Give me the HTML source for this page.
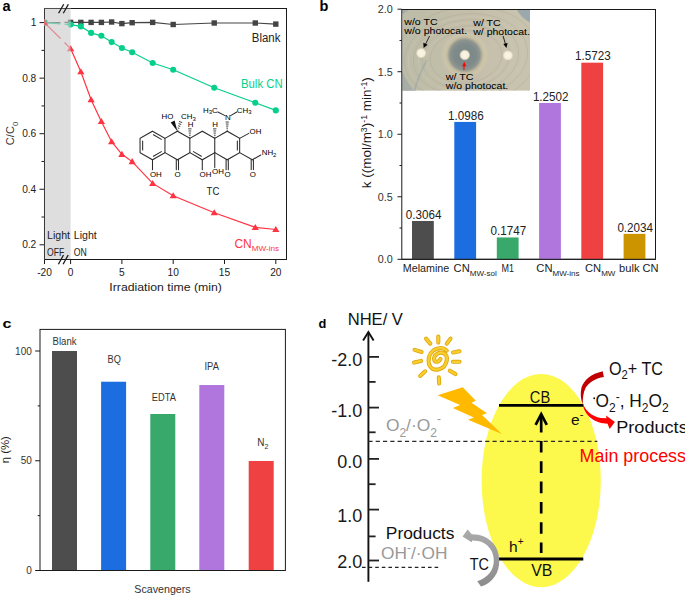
<!DOCTYPE html>
<html><head><meta charset="utf-8"><style>
html,body{margin:0;padding:0;background:#fff;width:685px;height:595px;overflow:hidden}
svg{display:block}
text{font-family:"Liberation Sans", sans-serif}
</style></head><body>
<svg width="685" height="595" viewBox="0 0 685 595" font-family='"Liberation Sans", sans-serif'>
<rect width="685" height="595" fill="#fff"/>
<text x="2.5" y="10.8" font-size="14.5" fill="#000" text-anchor="start" font-weight="bold" >a</text>
<rect x="44.5" y="8.5" width="242.0" height="251.0" fill="none" stroke="#1a1a1a" stroke-width="1"/>
<line x1="39.5" y1="22.6" x2="44.5" y2="22.6" stroke="#1a1a1a" stroke-width="1" />
<text x="36.3" y="26.1" font-size="10.2" fill="#222" text-anchor="end" font-weight="normal" >1</text>
<line x1="39.5" y1="78.14999999999999" x2="44.5" y2="78.14999999999999" stroke="#1a1a1a" stroke-width="1" />
<text x="36.3" y="81.65" font-size="10.2" fill="#222" text-anchor="end" font-weight="normal" >0.8</text>
<line x1="39.5" y1="133.70000000000002" x2="44.5" y2="133.70000000000002" stroke="#1a1a1a" stroke-width="1" />
<text x="36.3" y="137.2" font-size="10.2" fill="#222" text-anchor="end" font-weight="normal" >0.6</text>
<line x1="39.5" y1="189.25" x2="44.5" y2="189.25" stroke="#1a1a1a" stroke-width="1" />
<text x="36.3" y="192.75" font-size="10.2" fill="#222" text-anchor="end" font-weight="normal" >0.4</text>
<line x1="39.5" y1="244.8" x2="44.5" y2="244.8" stroke="#1a1a1a" stroke-width="1" />
<text x="36.3" y="248.3" font-size="10.2" fill="#222" text-anchor="end" font-weight="normal" >0.2</text>
<line x1="41.5" y1="50.375" x2="44.5" y2="50.375" stroke="#1a1a1a" stroke-width="1" />
<line x1="41.5" y1="105.92500000000001" x2="44.5" y2="105.92500000000001" stroke="#1a1a1a" stroke-width="1" />
<line x1="41.5" y1="161.475" x2="44.5" y2="161.475" stroke="#1a1a1a" stroke-width="1" />
<line x1="41.5" y1="217.02499999999998" x2="44.5" y2="217.02499999999998" stroke="#1a1a1a" stroke-width="1" />
<line x1="44.5" y1="259.5" x2="44.5" y2="264.0" stroke="#1a1a1a" stroke-width="1" />
<text x="44.5" y="275.8" font-size="10.2" fill="#222" text-anchor="middle" font-weight="normal" >-20</text>
<line x1="70.6" y1="259.5" x2="70.6" y2="264.0" stroke="#1a1a1a" stroke-width="1" />
<text x="70.6" y="275.8" font-size="10.2" fill="#222" text-anchor="middle" font-weight="normal" >0</text>
<line x1="121.89999999999999" y1="259.5" x2="121.89999999999999" y2="264.0" stroke="#1a1a1a" stroke-width="1" />
<text x="121.9" y="275.8" font-size="10.2" fill="#222" text-anchor="middle" font-weight="normal" >5</text>
<line x1="173.2" y1="259.5" x2="173.2" y2="264.0" stroke="#1a1a1a" stroke-width="1" />
<text x="173.2" y="275.8" font-size="10.2" fill="#222" text-anchor="middle" font-weight="normal" >10</text>
<line x1="224.5" y1="259.5" x2="224.5" y2="264.0" stroke="#1a1a1a" stroke-width="1" />
<text x="224.5" y="275.8" font-size="10.2" fill="#222" text-anchor="middle" font-weight="normal" >15</text>
<line x1="275.79999999999995" y1="259.5" x2="275.79999999999995" y2="264.0" stroke="#1a1a1a" stroke-width="1" />
<text x="275.8" y="275.8" font-size="10.2" fill="#222" text-anchor="middle" font-weight="normal" >20</text>
<text x="109.3" y="290.7" font-size="11.7" fill="#222" text-anchor="start" font-weight="normal" textLength="112.6" lengthAdjust="spacingAndGlyphs" >Irradiation time (min)</text>
<text transform="translate(14.1,145.2) rotate(-90) scale(0.96,1)" font-size="11.6" fill="#333">C/C<tspan font-size="8" dy="3.6">0</tspan></text>
<line x1="44.5" y1="22.6" x2="60.5" y2="22.48" stroke="#444444" stroke-width="1.2" />
<line x1="64.5" y1="22.45" x2="70.6" y2="22.4" stroke="#444444" stroke-width="1.2" />
<line x1="44.5" y1="22.6" x2="60.5" y2="23.83" stroke="#05cf8a" stroke-width="1.2" />
<line x1="64.5" y1="24.13" x2="70.6" y2="24.6" stroke="#05cf8a" stroke-width="1.2" />
<line x1="44.5" y1="22.6" x2="60.5" y2="38.54" stroke="#ff3341" stroke-width="1.2" />
<line x1="64.5" y1="42.52" x2="70.6" y2="48.6" stroke="#ff3341" stroke-width="1.2" />
<polyline points="70.60,22.40 80.86,22.40 91.12,22.40 101.38,22.40 111.64,22.00 121.90,23.60 132.16,22.70 152.68,22.40 173.20,24.50 214.24,23.00 255.28,23.00 275.80,24.10" fill="none" stroke="#444444" stroke-width="1.2"/>
<polyline points="70.60,24.60 80.86,26.40 91.12,32.90 101.38,35.80 111.64,42.10 121.90,48.00 132.16,52.30 152.68,63.00 173.20,69.80 214.24,87.70 255.28,102.80 275.80,110.40" fill="none" stroke="#05cf8a" stroke-width="1.2"/>
<polyline points="70.60,48.60 80.86,71.70 91.12,99.70 101.38,121.50 111.64,141.70 121.90,154.30 132.16,161.60 152.68,183.40 173.20,195.70 214.24,212.70 255.28,227.40 275.80,229.50" fill="none" stroke="#ff3341" stroke-width="1.2"/>
<rect x="67.90" y="19.70" width="5.4" height="5.4" fill="#444444"/>
<rect x="78.16" y="19.70" width="5.4" height="5.4" fill="#444444"/>
<rect x="88.42" y="19.70" width="5.4" height="5.4" fill="#444444"/>
<rect x="98.68" y="19.70" width="5.4" height="5.4" fill="#444444"/>
<rect x="108.94" y="19.30" width="5.4" height="5.4" fill="#444444"/>
<rect x="119.20" y="20.90" width="5.4" height="5.4" fill="#444444"/>
<rect x="129.46" y="20.00" width="5.4" height="5.4" fill="#444444"/>
<rect x="149.98" y="19.70" width="5.4" height="5.4" fill="#444444"/>
<rect x="170.50" y="21.80" width="5.4" height="5.4" fill="#444444"/>
<rect x="211.54" y="20.30" width="5.4" height="5.4" fill="#444444"/>
<rect x="252.58" y="20.30" width="5.4" height="5.4" fill="#444444"/>
<rect x="273.10" y="21.40" width="5.4" height="5.4" fill="#444444"/>
<circle cx="70.60" cy="24.60" r="3.05" fill="#05cf8a"/>
<circle cx="80.86" cy="26.40" r="3.05" fill="#05cf8a"/>
<circle cx="91.12" cy="32.90" r="3.05" fill="#05cf8a"/>
<circle cx="101.38" cy="35.80" r="3.05" fill="#05cf8a"/>
<circle cx="111.64" cy="42.10" r="3.05" fill="#05cf8a"/>
<circle cx="121.90" cy="48.00" r="3.05" fill="#05cf8a"/>
<circle cx="132.16" cy="52.30" r="3.05" fill="#05cf8a"/>
<circle cx="152.68" cy="63.00" r="3.05" fill="#05cf8a"/>
<circle cx="173.20" cy="69.80" r="3.05" fill="#05cf8a"/>
<circle cx="214.24" cy="87.70" r="3.05" fill="#05cf8a"/>
<circle cx="255.28" cy="102.80" r="3.05" fill="#05cf8a"/>
<circle cx="275.80" cy="110.40" r="3.05" fill="#05cf8a"/>
<polygon points="70.60,45.10 74.20,51.20 67.00,51.20" fill="#ff3341"/>
<polygon points="80.86,68.20 84.46,74.30 77.26,74.30" fill="#ff3341"/>
<polygon points="91.12,96.20 94.72,102.30 87.52,102.30" fill="#ff3341"/>
<polygon points="101.38,118.00 104.98,124.10 97.78,124.10" fill="#ff3341"/>
<polygon points="111.64,138.20 115.24,144.30 108.04,144.30" fill="#ff3341"/>
<polygon points="121.90,150.80 125.50,156.90 118.30,156.90" fill="#ff3341"/>
<polygon points="132.16,158.10 135.76,164.20 128.56,164.20" fill="#ff3341"/>
<polygon points="152.68,179.90 156.28,186.00 149.08,186.00" fill="#ff3341"/>
<polygon points="173.20,192.20 176.80,198.30 169.60,198.30" fill="#ff3341"/>
<polygon points="214.24,209.20 217.84,215.30 210.64,215.30" fill="#ff3341"/>
<polygon points="255.28,223.90 258.88,230.00 251.68,230.00" fill="#ff3341"/>
<polygon points="275.80,226.00 279.40,232.10 272.20,232.10" fill="#ff3341"/>
<rect x="43.9" y="7.9" width="26.699999999999996" height="251.1" fill="#c8c8c8" fill-opacity="0.6"/>
<line x1="44.5" y1="8.0" x2="44.5" y2="260.0" stroke="#3a3a3a" stroke-width="1" />
<line x1="44.5" y1="8.5" x2="70.6" y2="8.5" stroke="#505050" stroke-width="1" />
<clipPath id="pa"><rect x="43.9" y="0" width="30" height="60"/></clipPath>
<g clip-path="url(#pa)">
<rect x="41.80" y="19.90" width="5.4" height="5.4" fill="#8a8a8a"/>
<circle cx="44.5" cy="22.6" r="3.05" fill="#5cc99d"/>
<polygon points="44.50,19.10 48.10,25.20 40.90,25.20" fill="#e06a74"/>
</g>
<line x1="58.6" y1="13.2" x2="63.7" y2="4.2" stroke="#1a1a1a" stroke-width="1.3" />
<line x1="58.4" y1="264.2" x2="63.5" y2="255.0" stroke="#1a1a1a" stroke-width="1.3" />
<line x1="63.300000000000004" y1="13.2" x2="68.4" y2="4.2" stroke="#1a1a1a" stroke-width="1.3" />
<line x1="63.1" y1="264.2" x2="68.2" y2="255.0" stroke="#1a1a1a" stroke-width="1.3" />
<text x="47" y="239.1" font-size="10.5" fill="#222" text-anchor="start" font-weight="normal" textLength="23" lengthAdjust="spacingAndGlyphs" >Light</text>
<text x="47" y="256.3" font-size="10.5" fill="#222" text-anchor="start" font-weight="normal" textLength="17.2" lengthAdjust="spacingAndGlyphs" >OFF</text>
<text x="73.8" y="239.1" font-size="10.5" fill="#222" text-anchor="start" font-weight="normal" textLength="23" lengthAdjust="spacingAndGlyphs" >Light</text>
<text x="73.8" y="256.3" font-size="10.5" fill="#222" text-anchor="start" font-weight="normal" textLength="13" lengthAdjust="spacingAndGlyphs" >ON</text>
<text x="251.8" y="41.7" font-size="12" fill="#222" text-anchor="start" font-weight="normal" textLength="28.6" lengthAdjust="spacingAndGlyphs" >Blank</text>
<text x="241.0" y="87.8" font-size="12" fill="#05cf8a" text-anchor="start" font-weight="normal" textLength="41.6" lengthAdjust="spacingAndGlyphs" >Bulk CN</text>
<text x="234.4" y="248" font-size="12" fill="#ff3341">CN<tspan font-size="8.1" dy="3.2">MW-ins</tspan></text>
<text x="206.6" y="195.3" font-size="11.5" fill="#222" text-anchor="start" font-weight="normal" textLength="12.8" lengthAdjust="spacingAndGlyphs" >TC</text>
<g stroke="#2b2b2b" stroke-width="1.05" fill="none" stroke-linecap="round">
<path d="M152.50,131.20 L164.95,138.40 L164.95,152.60 L152.50,159.80 L140.05,152.60 L140.05,138.40 Z"/>
<path d="M164.95,138.4 L177.40,131.2 L189.85,138.4 L189.85,152.6 L177.40,159.8 L164.95,152.6"/>
<path d="M189.85,138.4 L202.30,131.2 L214.75,138.4 L214.75,152.6 L202.30,159.8 L189.85,152.6"/>
<path d="M214.75,138.4 L227.20,131.2 L239.65,138.4 L239.65,152.6 L227.20,159.8 L214.75,152.6"/>
<line x1="153.43" y1="134.74" x2="161.40" y2="139.35"/>
<line x1="142.65" y1="140.96" x2="142.65" y2="150.04"/>
<line x1="153.43" y1="156.26" x2="161.40" y2="151.65"/>
<line x1="193.40" y1="151.65" x2="201.37" y2="156.26"/>
<line x1="237.35" y1="140.96" x2="237.35" y2="150.04"/>
<line x1="152.5" y1="159.8" x2="152.5" y2="169.8"/>
<line x1="176.3" y1="159.8" x2="176.3" y2="169.8"/><line x1="178.5" y1="159.8" x2="178.5" y2="169.8"/>
<line x1="202.3" y1="159.8" x2="202.3" y2="169.8"/>
<line x1="214.75" y1="152.6" x2="214.75" y2="167.6"/>
<line x1="226.1" y1="159.8" x2="226.1" y2="169.8"/><line x1="228.29999999999998" y1="159.8" x2="228.29999999999998" y2="169.8"/>
<line x1="239.64999999999998" y1="138.4" x2="248.8" y2="133.4"/>
<line x1="239.64999999999998" y1="152.6" x2="252.3" y2="159.8"/>
<line x1="251.2" y1="159.8" x2="251.2" y2="169.6"/><line x1="253.4" y1="159.8" x2="253.4" y2="169.6"/>
<line x1="252.3" y1="159.8" x2="260.8" y2="155.0"/>
<line x1="217.9" y1="112.0" x2="225.0" y2="115.6"/><line x1="230.6" y1="115.6" x2="236.8" y2="112.0"/>
</g>
<polygon points="177.40,131.2 170.70,122.40 174.60,120.40" fill="#111"/>
<line x1="177.25" y1="130.00" x2="178.27" y2="130.36" stroke="#2b2b2b" stroke-width="0.9"/>
<line x1="177.71" y1="127.87" x2="179.25" y2="128.41" stroke="#2b2b2b" stroke-width="0.9"/>
<line x1="178.16" y1="125.73" x2="180.24" y2="126.47" stroke="#2b2b2b" stroke-width="0.9"/>
<line x1="178.62" y1="123.60" x2="181.22" y2="124.52" stroke="#2b2b2b" stroke-width="0.9"/>
<line x1="179.07" y1="121.47" x2="182.21" y2="122.57" stroke="#2b2b2b" stroke-width="0.9"/>
<line x1="189.31" y1="137.34" x2="190.39" y2="137.34" stroke="#2b2b2b" stroke-width="0.9"/>
<line x1="189.03" y1="135.22" x2="190.67" y2="135.22" stroke="#2b2b2b" stroke-width="0.9"/>
<line x1="188.75" y1="133.10" x2="190.95" y2="133.10" stroke="#2b2b2b" stroke-width="0.9"/>
<line x1="188.47" y1="130.98" x2="191.23" y2="130.98" stroke="#2b2b2b" stroke-width="0.9"/>
<line x1="188.19" y1="128.86" x2="191.51" y2="128.86" stroke="#2b2b2b" stroke-width="0.9"/>
<line x1="214.21" y1="137.34" x2="215.29" y2="137.34" stroke="#2b2b2b" stroke-width="0.9"/>
<line x1="213.93" y1="135.22" x2="215.57" y2="135.22" stroke="#2b2b2b" stroke-width="0.9"/>
<line x1="213.65" y1="133.10" x2="215.85" y2="133.10" stroke="#2b2b2b" stroke-width="0.9"/>
<line x1="213.37" y1="130.98" x2="216.13" y2="130.98" stroke="#2b2b2b" stroke-width="0.9"/>
<line x1="213.09" y1="128.86" x2="216.41" y2="128.86" stroke="#2b2b2b" stroke-width="0.9"/>
<line x1="226.66" y1="130.18" x2="227.74" y2="130.18" stroke="#2b2b2b" stroke-width="0.9"/>
<line x1="226.38" y1="128.14" x2="228.02" y2="128.14" stroke="#2b2b2b" stroke-width="0.9"/>
<line x1="226.10" y1="126.10" x2="228.30" y2="126.10" stroke="#2b2b2b" stroke-width="0.9"/>
<line x1="225.82" y1="124.06" x2="228.58" y2="124.06" stroke="#2b2b2b" stroke-width="0.9"/>
<line x1="225.54" y1="122.02" x2="228.86" y2="122.02" stroke="#2b2b2b" stroke-width="0.9"/>
<text x="149.9" y="176.8" font-size="7.9" fill="#000" text-anchor="start">OH</text>
<text x="174.6" y="176.8" font-size="7.9" fill="#000" text-anchor="start">O</text>
<text x="199.5" y="176.8" font-size="7.9" fill="#000" text-anchor="start">OH</text>
<text x="212.0" y="173.6" font-size="7.9" fill="#000" text-anchor="start">OH</text>
<text x="224.5" y="176.8" font-size="7.9" fill="#000" text-anchor="start">O</text>
<text x="249.7" y="176.6" font-size="7.9" fill="#000" text-anchor="start">O</text>
<text x="249.6" y="134.1" font-size="7.9" fill="#000" text-anchor="start">OH</text>
<text x="261.7" y="155.4" font-size="7.9" fill="#000" text-anchor="start">NH<tspan font-size="6" dy="1.6">2</tspan></text>
<text x="161.6" y="119.0" font-size="7.9" fill="#000" text-anchor="start">HO</text>
<text x="181.0" y="119.0" font-size="7.9" fill="#000" text-anchor="start">CH<tspan font-size="6" dy="1.6">3</tspan></text>
<text x="187.8" y="126.7" font-size="7.9" fill="#000" text-anchor="start">H</text>
<text x="212.3" y="126.7" font-size="7.9" fill="#000" text-anchor="start">H</text>
<text x="225.0" y="119.9" font-size="7.9" fill="#000" text-anchor="start">N</text>
<text x="203.0" y="112.6" font-size="7.9" fill="#000">H<tspan font-size="6" dy="1.6">3</tspan><tspan dy="-1.6">C</tspan></text>
<text x="236.8" y="112.6" font-size="7.9" fill="#000" text-anchor="start">CH<tspan font-size="6" dy="1.6">3</tspan></text>
<text x="319.4" y="10.8" font-size="14.5" fill="#000" text-anchor="start" font-weight="bold" >b</text>
<defs>
<radialGradient id="ring" cx="464.8" cy="55.0" r="25" gradientUnits="userSpaceOnUse">
 <stop offset="0" stop-color="#7b8686"/><stop offset="0.45" stop-color="#7f8a8a"/><stop offset="0.6" stop-color="#8e9590"/><stop offset="0.72" stop-color="#c4bc9f"/><stop offset="0.84" stop-color="#d4cbaf" stop-opacity="0.5"/><stop offset="1" stop-color="#c8c2ab" stop-opacity="0"/>
</radialGradient>
<linearGradient id="bg" x1="0" y1="0" x2="1" y2="0">
 <stop offset="0" stop-color="#bdbca9"/><stop offset="0.5" stop-color="#c4beaa"/><stop offset="1" stop-color="#c9c4b0"/>
</linearGradient>
<radialGradient id="spot" cx="0.5" cy="0.5" r="0.5">
 <stop offset="0" stop-color="#fbf6e6"/><stop offset="0.7" stop-color="#f6efda"/><stop offset="1" stop-color="#e9e0c8" stop-opacity="0.3"/>
</radialGradient>
<linearGradient id="tr" x1="0" y1="0" x2="1" y2="1">
 <stop offset="0" stop-color="#8e9ea6" stop-opacity="0.95"/><stop offset="1" stop-color="#8e9ea6" stop-opacity="0"/>
</linearGradient>
<clipPath id="inclip"><rect x="402.3" y="9.5" width="127.7" height="81.3"/></clipPath>
</defs>
<g clip-path="url(#inclip)">
<rect x="402.3" y="9.5" width="127.69999999999999" height="81.3" fill="url(#bg)"/>
<path d="M516.5,9 L531,9 L531,23 Q521,18 516.5,9 Z" fill="#93a4ac" opacity="0.85"/>
<path d="M402,9 L410,9 Q406,12 402,14.5 Z" fill="#9eaaae" opacity="0.8"/>
<path d="M402,71 Q407,82 414,91 L402,91 Z" fill="#a0a9a8" opacity="0.75"/>
<path d="M414.5,91 Q418,76 427,60" stroke="#a2aaa8" stroke-width="2" fill="none" opacity="0.7"/>
<g fill="none" stroke="#a9a690" stroke-width="0.6" opacity="0.6">
<ellipse cx="466" cy="57" rx="36" ry="26" transform="rotate(-8 466 57)"/>
<ellipse cx="466" cy="57" rx="44" ry="31" transform="rotate(-8 466 57)"/>
<ellipse cx="466" cy="57" rx="53" ry="37" transform="rotate(-8 466 57)"/>
<ellipse cx="466" cy="57" rx="62" ry="43" transform="rotate(-8 466 57)"/>
<ellipse cx="466" cy="57" rx="72" ry="50" transform="rotate(-8 466 57)"/>
</g>
<g fill="none" stroke="#d6cfb8" stroke-width="0.8" opacity="0.35">
<ellipse cx="466" cy="57" rx="40" ry="28" transform="rotate(-8 466 57)"/>
<ellipse cx="466" cy="57" rx="48" ry="34" transform="rotate(-8 466 57)"/>
<ellipse cx="466" cy="57" rx="58" ry="40" transform="rotate(-8 466 57)"/>
</g>
<circle cx="464.8" cy="55.0" r="25" fill="url(#ring)"/>
<circle cx="421.2" cy="53.1" r="5.2" fill="url(#spot)"/>
<circle cx="464.8" cy="55.0" r="5.4" fill="url(#spot)"/>
<circle cx="507.9" cy="55.4" r="5.2" fill="url(#spot)"/>
</g>
<g font-size="8.9" fill="#000" stroke="#000" stroke-width="0.05">
<text x="404.3" y="24.6" textLength="33.2" lengthAdjust="spacingAndGlyphs">w/o TC</text>
<text x="404.3" y="33.5" textLength="62.8" lengthAdjust="spacingAndGlyphs">w/o photocat.</text>
<text x="473.3" y="26.3" textLength="27.4" lengthAdjust="spacingAndGlyphs">w/ TC</text>
<text x="473.3" y="35.2" textLength="56.5" lengthAdjust="spacingAndGlyphs">w/ photocat.</text>
<text x="445.8" y="80.3" textLength="27.8" lengthAdjust="spacingAndGlyphs">w/ TC</text>
<text x="445.8" y="88.5" textLength="62.5" lengthAdjust="spacingAndGlyphs">w/o photocat.</text>
</g>
<line x1="429.6" y1="36" x2="425.6" y2="44" stroke="#000" stroke-width="0.8"/>
<polygon points="423.6,48 423.3,42.8 427.6,44.8" fill="#000"/>
<line x1="503.1" y1="35.9" x2="505.4" y2="44" stroke="#000" stroke-width="0.8"/>
<polygon points="506.4,47.9 503.3,43.9 507.6,42.9" fill="#000"/>
<line x1="463.9" y1="70" x2="464.1" y2="65" stroke="#f00" stroke-width="1"/>
<polygon points="464.3,61.8 462.2,66.2 466.2,66.2" fill="#f00"/>
<rect x="401.8" y="9.5" width="253.7" height="249.8" fill="none" stroke="#1a1a1a" stroke-width="1"/>
<line x1="397.5" y1="259.3" x2="401.8" y2="259.3" stroke="#1a1a1a" stroke-width="1" />
<text x="392.8" y="263.3" font-size="11.2" fill="#333" text-anchor="end" font-weight="normal" textLength="15" lengthAdjust="spacingAndGlyphs" >0.0</text>
<line x1="397.5" y1="196.775" x2="401.8" y2="196.775" stroke="#1a1a1a" stroke-width="1" />
<text x="392.8" y="200.78" font-size="11.2" fill="#333" text-anchor="end" font-weight="normal" textLength="15" lengthAdjust="spacingAndGlyphs" >0.5</text>
<line x1="397.5" y1="134.25" x2="401.8" y2="134.25" stroke="#1a1a1a" stroke-width="1" />
<text x="392.8" y="138.25" font-size="11.2" fill="#333" text-anchor="end" font-weight="normal" textLength="15" lengthAdjust="spacingAndGlyphs" >1.0</text>
<line x1="397.5" y1="71.72500000000002" x2="401.8" y2="71.72500000000002" stroke="#1a1a1a" stroke-width="1" />
<text x="392.8" y="75.73" font-size="11.2" fill="#333" text-anchor="end" font-weight="normal" textLength="15" lengthAdjust="spacingAndGlyphs" >1.5</text>
<line x1="397.5" y1="9.200000000000017" x2="401.8" y2="9.200000000000017" stroke="#1a1a1a" stroke-width="1" />
<text x="392.8" y="13.2" font-size="11.2" fill="#333" text-anchor="end" font-weight="normal" textLength="15" lengthAdjust="spacingAndGlyphs" >2.0</text>
<line x1="399.5" y1="228.03750000000002" x2="401.8" y2="228.03750000000002" stroke="#1a1a1a" stroke-width="1" />
<line x1="399.5" y1="165.51250000000002" x2="401.8" y2="165.51250000000002" stroke="#1a1a1a" stroke-width="1" />
<line x1="399.5" y1="102.98750000000001" x2="401.8" y2="102.98750000000001" stroke="#1a1a1a" stroke-width="1" />
<line x1="399.5" y1="40.462500000000006" x2="401.8" y2="40.462500000000006" stroke="#1a1a1a" stroke-width="1" />
<text transform="translate(371.4,188.2) rotate(-90)" font-size="13" fill="#1a1a1a" textLength="111" lengthAdjust="spacingAndGlyphs">k ((mol/m<tspan font-size="8.5" dy="-4.5">3</tspan><tspan dy="4.5">)</tspan><tspan font-size="8.5" dy="-4.5">-1</tspan><tspan dy="4.5"> min</tspan><tspan font-size="8.5" dy="-4.5">-1</tspan><tspan dy="4.5">)</tspan></text>
<rect x="412.0" y="220.98" width="21.8" height="38.32" fill="#4d4d4d"/>
<text x="423.6" y="218.68" font-size="12.2" fill="#222" text-anchor="middle" font-weight="normal" textLength="35.6" lengthAdjust="spacingAndGlyphs" >0.3064</text>
<rect x="454.3" y="121.92" width="21.8" height="137.38" fill="#1b6de0"/>
<text x="465.9" y="119.62" font-size="12.2" fill="#222" text-anchor="middle" font-weight="normal" textLength="35.6" lengthAdjust="spacingAndGlyphs" >1.0986</text>
<rect x="496.8" y="237.45" width="21.8" height="21.85" fill="#38a96a"/>
<text x="508.4" y="235.15" font-size="12.2" fill="#222" text-anchor="middle" font-weight="normal" textLength="35.6" lengthAdjust="spacingAndGlyphs" >0.1747</text>
<rect x="539.1" y="102.96" width="21.8" height="156.34" fill="#b076dd"/>
<text x="550.7" y="100.66" font-size="12.2" fill="#222" text-anchor="middle" font-weight="normal" textLength="35.6" lengthAdjust="spacingAndGlyphs" >1.2502</text>
<rect x="581.3" y="62.68" width="21.8" height="196.62" fill="#ef4141"/>
<text x="592.9" y="60.38" font-size="12.2" fill="#222" text-anchor="middle" font-weight="normal" textLength="35.6" lengthAdjust="spacingAndGlyphs" >1.5723</text>
<rect x="623.6" y="233.86" width="21.8" height="25.44" fill="#cc9500"/>
<text x="635.2" y="231.56" font-size="12.2" fill="#222" text-anchor="middle" font-weight="normal" textLength="35.6" lengthAdjust="spacingAndGlyphs" >0.2034</text>
<line x1="401.8" y1="259.3" x2="655.5" y2="259.3" stroke="#1a1a1a" stroke-width="1" />
<text x="402.8" y="272.2" font-size="11.2" fill="#222" text-anchor="start" font-weight="normal" textLength="46.4" lengthAdjust="spacingAndGlyphs" >Melamine</text>
<text x="453.6" y="272.2" font-size="11.2" fill="#222">CN<tspan font-size="8" dy="3.6">MW-sol</tspan></text>
<text x="501.6" y="272.2" font-size="11.2" fill="#222" text-anchor="start" font-weight="normal" textLength="12.5" lengthAdjust="spacingAndGlyphs" >M1</text>
<text x="536.3" y="272.2" font-size="11.2" fill="#222">CN<tspan font-size="8" dy="3.3">MW-ins</tspan></text>
<text x="585.0" y="272.2" font-size="11.2" fill="#222">CN<tspan font-size="8" dy="3.3">MW</tspan></text>
<text x="619.1" y="272.2" font-size="11.2" fill="#222" text-anchor="start" font-weight="normal" textLength="39.5" lengthAdjust="spacingAndGlyphs" >bulk CN</text>
<text transform="translate(2.4,327.6) scale(1.2,1)" font-size="13.5" font-weight="bold" fill="#000">c</text>
<rect x="52.0" y="351.00" width="25" height="219.50" fill="#4d4d4d"/>
<rect x="101.1" y="381.73" width="25" height="188.77" fill="#1b6de0"/>
<rect x="150.3" y="414.00" width="25" height="156.50" fill="#38a96a"/>
<rect x="199.3" y="385.02" width="25" height="185.48" fill="#b076dd"/>
<rect x="248.7" y="460.97" width="25" height="109.53" fill="#ef4141"/>
<rect x="40.0" y="329.4" width="245.39999999999998" height="241.10000000000002" fill="none" stroke="#1a1a1a" stroke-width="1"/>
<line x1="35.2" y1="570.5" x2="40.0" y2="570.5" stroke="#1a1a1a" stroke-width="1" />
<text x="31.8" y="574.0" font-size="10" fill="#333" text-anchor="end" font-weight="normal" >0</text>
<line x1="35.2" y1="460.75" x2="40.0" y2="460.75" stroke="#1a1a1a" stroke-width="1" />
<text x="31.8" y="464.25" font-size="10" fill="#333" text-anchor="end" font-weight="normal" >50</text>
<line x1="35.2" y1="351.0" x2="40.0" y2="351.0" stroke="#1a1a1a" stroke-width="1" />
<text x="31.8" y="354.5" font-size="10" fill="#333" text-anchor="end" font-weight="normal" >100</text>
<line x1="37.7" y1="515.625" x2="40.0" y2="515.625" stroke="#1a1a1a" stroke-width="1" />
<line x1="37.7" y1="405.875" x2="40.0" y2="405.875" stroke="#1a1a1a" stroke-width="1" />
<text x="52.6" y="345.2" font-size="10" fill="#333" text-anchor="start" font-weight="normal" textLength="23.9" lengthAdjust="spacingAndGlyphs" >Blank</text>
<text x="107.6" y="363.2" font-size="10" fill="#333" text-anchor="start" font-weight="normal" textLength="13.3" lengthAdjust="spacingAndGlyphs" >BQ</text>
<text x="151.8" y="400.8" font-size="10" fill="#333" text-anchor="start" font-weight="normal" textLength="24.1" lengthAdjust="spacingAndGlyphs" >EDTA</text>
<text x="204.5" y="369.7" font-size="10" fill="#333" text-anchor="start" font-weight="normal" textLength="14.4" lengthAdjust="spacingAndGlyphs" >IPA</text>
<text x="257.2" y="446" font-size="10" fill="#333">N<tspan font-size="7" dy="2.5">2</tspan></text>
<text x="134.3" y="592.8" font-size="11.5" fill="#333" text-anchor="start" font-weight="normal" textLength="56.4" lengthAdjust="spacingAndGlyphs" >Scavengers</text>
<text transform="translate(9.4,463.3) rotate(-90)" font-size="11.4" fill="#222" textLength="27.2" lengthAdjust="spacingAndGlyphs">&#951; (%)</text>
<text x="318.6" y="327.8" font-size="12.8" fill="#000" text-anchor="start" font-weight="bold" >d</text>
<text x="347.7" y="324.6" font-size="16" fill="#111" text-anchor="start" font-weight="normal" textLength="55.2" lengthAdjust="spacingAndGlyphs" >NHE/ V</text>
<ellipse cx="541.2" cy="480.6" rx="59.6" ry="106.6" fill="#fdf84c"/>
<line x1="368.4" y1="332.5" x2="368.4" y2="581.8" stroke="#111" stroke-width="1.9" />
<polyline points="363.1,340.6 368.4,332.0 373.6,340.6" fill="none" stroke="#111" stroke-width="1.9"/>
<line x1="368.4" y1="356.9" x2="379.0" y2="356.9" stroke="#222" stroke-width="1.8" />
<line x1="368.4" y1="407.6" x2="379.0" y2="407.6" stroke="#222" stroke-width="1.8" />
<line x1="368.4" y1="458.9" x2="379.0" y2="458.9" stroke="#222" stroke-width="1.8" />
<line x1="368.4" y1="509.6" x2="379.0" y2="509.6" stroke="#222" stroke-width="1.8" />
<line x1="368.4" y1="560.5" x2="379.0" y2="560.5" stroke="#222" stroke-width="1.8" />
<line x1="368.4" y1="381.9" x2="375.6" y2="381.9" stroke="#222" stroke-width="1.8" />
<line x1="368.4" y1="432.3" x2="375.6" y2="432.3" stroke="#222" stroke-width="1.8" />
<line x1="368.4" y1="484.2" x2="375.6" y2="484.2" stroke="#222" stroke-width="1.8" />
<line x1="368.4" y1="536.4" x2="375.6" y2="536.4" stroke="#222" stroke-width="1.8" />
<text x="362.4" y="365.8" font-size="18" fill="#1a1a1a" text-anchor="end" font-weight="normal" >-2.0</text>
<text x="362.4" y="416.9" font-size="18" fill="#1a1a1a" text-anchor="end" font-weight="normal" >-1.0</text>
<text x="362.4" y="468.4" font-size="18" fill="#1a1a1a" text-anchor="end" font-weight="normal" >0.0</text>
<text x="362.4" y="521.9" font-size="18" fill="#1a1a1a" text-anchor="end" font-weight="normal" >1.0</text>
<text x="362.4" y="568.4" font-size="18" fill="#1a1a1a" text-anchor="end" font-weight="normal" >2.0</text>
<line x1="368.4" y1="441.3" x2="597.4" y2="441.3" stroke="#2a2a2a" stroke-width="1.25" stroke-dasharray="4.2 3.1"/>
<line x1="362.0" y1="567.4" x2="440.6" y2="567.4" stroke="#222" stroke-width="1.2" stroke-dasharray="3.6 3.0"/>
<text x="385.9" y="431.4" font-size="17.4" fill="#999">O<tspan font-size="12" dy="5.2">2</tspan><tspan dy="-5.2">/&#183;O</tspan><tspan font-size="12" dy="5.2">2</tspan><tspan font-size="12" dy="-14">-</tspan></text>
<text x="381.0" y="559.4" font-size="17.3" fill="#999">OH<tspan font-size="12" dy="-7">-</tspan><tspan dy="7">/&#183;OH</tspan></text>
<text x="385.8" y="539.2" font-size="16.5" fill="#111" text-anchor="start" font-weight="normal" textLength="68.6" lengthAdjust="spacingAndGlyphs" >Products</text>
<line x1="499.0" y1="405.4" x2="583.4" y2="405.4" stroke="#000" stroke-width="2.8" />
<line x1="498.6" y1="559.0" x2="583.3" y2="559.0" stroke="#000" stroke-width="2.8" />
<text x="529.8" y="402.6" font-size="16.2" fill="#111" text-anchor="start" font-weight="normal" textLength="20.4" lengthAdjust="spacingAndGlyphs" >CB</text>
<text x="531.2" y="575.5" font-size="16.2" fill="#111" text-anchor="start" font-weight="normal" textLength="21.2" lengthAdjust="spacingAndGlyphs" >VB</text>
<text x="509.0" y="552.1" font-size="15.5" fill="#111">h<tspan font-size="10" dy="-7">+</tspan></text>
<text x="571.1" y="425.0" font-size="15.5" fill="#111">e<tspan font-size="11" dy="-7">-</tspan></text>
<line x1="541.2" y1="432.5" x2="541.2" y2="416" stroke="#000" stroke-width="2.7" />
<polyline points="535.6,424.9 541.2,414.2 546.8,424.9" fill="none" stroke="#000" stroke-width="2.7" stroke-linejoin="miter"/>
<line x1="541.2" y1="441.0" x2="541.2" y2="553.0" stroke="#000" stroke-width="2.7" stroke-dasharray="11.6 8.7"/>
<polygon points="437.6,395.2 462.7,387.2 475.8,400.8 471.5,402.8 487.0,413.3 482.0,415.0 501.8,434.0 468.0,419.7 473.8,417.6 452.8,408.0 460.1,405.1" fill="#ffba00"/>
<g stroke="#e2a810" stroke-width="4.1" stroke-linecap="round" fill="none">
<line x1="438.3" y1="336.6" x2="438.3" y2="342.6"/>
<line x1="426.0" y1="338.6" x2="430.3" y2="343.6"/>
<line x1="450.5" y1="338.6" x2="446.8" y2="343.6"/>
<line x1="414.6" y1="349.9" x2="421.6" y2="352.0"/>
<line x1="453.0" y1="352.5" x2="459.5" y2="351.3"/>
<line x1="414.1" y1="362.6" x2="421.1" y2="360.9"/>
<line x1="452.9" y1="361.8" x2="459.5" y2="361.8"/>
<line x1="420.1" y1="375.9" x2="425.2" y2="371.3"/>
<line x1="449.8" y1="370.7" x2="455.4" y2="374.1"/>
<line x1="438.8" y1="377.4" x2="439.2" y2="383.5"/>
<path d="M446.8,350.7 C444,348 441,347.8 439.3,348.2 C434,348.8 430.5,352 429,357 C428,362 429,366.5 432.5,368.8 C436,370.5 441,369.5 444,366.5 C446.5,363 447.5,358.5 446.3,355.5 C444.5,352.5 440.5,351.8 437.5,353.5 C434.5,355.5 433.5,358.5 434.5,360.8 C436,362.5 439,362 440.5,359"/>
</g>
<g stroke="#f7cf2e" stroke-width="2.3" stroke-linecap="round" fill="none">
<line x1="438.3" y1="336.6" x2="438.3" y2="342.6"/>
<line x1="426.0" y1="338.6" x2="430.3" y2="343.6"/>
<line x1="450.5" y1="338.6" x2="446.8" y2="343.6"/>
<line x1="414.6" y1="349.9" x2="421.6" y2="352.0"/>
<line x1="453.0" y1="352.5" x2="459.5" y2="351.3"/>
<line x1="414.1" y1="362.6" x2="421.1" y2="360.9"/>
<line x1="452.9" y1="361.8" x2="459.5" y2="361.8"/>
<line x1="420.1" y1="375.9" x2="425.2" y2="371.3"/>
<line x1="449.8" y1="370.7" x2="455.4" y2="374.1"/>
<line x1="438.8" y1="377.4" x2="439.2" y2="383.5"/>
<path d="M446.8,350.7 C444,348 441,347.8 439.3,348.2 C434,348.8 430.5,352 429,357 C428,362 429,366.5 432.5,368.8 C436,370.5 441,369.5 444,366.5 C446.5,363 447.5,358.5 446.3,355.5 C444.5,352.5 440.5,351.8 437.5,353.5 C434.5,355.5 433.5,358.5 434.5,360.8 C436,362.5 439,362 440.5,359"/>
</g>
<text x="609.0" y="375.2" font-size="18" fill="#111" textLength="54" lengthAdjust="spacingAndGlyphs">O<tspan font-size="12.5" dy="3.9">2</tspan><tspan dy="-3.9">+ TC</tspan></text>
<circle cx="594.2" cy="398.3" r="0.95" fill="#111"/>
<text x="595.6" y="407.2" font-size="18" fill="#111" textLength="73" lengthAdjust="spacingAndGlyphs">O<tspan font-size="12.5" dy="4.4">2</tspan><tspan font-size="12.5" dy="-10.5">-</tspan><tspan dy="6.1">, H</tspan><tspan font-size="12.5" dy="4.4">2</tspan><tspan dy="-4.4">O</tspan><tspan font-size="12.5" dy="4.4">2</tspan></text>
<text x="616.2" y="433.0" font-size="17.2" fill="#111" text-anchor="start" font-weight="normal" textLength="71.5" lengthAdjust="spacingAndGlyphs" >Products</text>
<text x="579.6" y="461.5" font-size="17.9" fill="#ff0000" text-anchor="start" font-weight="normal" >Main process</text>
<text x="469.8" y="569.5" font-size="16" fill="#111" text-anchor="start" font-weight="normal" textLength="19.2" lengthAdjust="spacingAndGlyphs" >TC</text>
<path d="M602.7,371.3 L603.9,376.9 C596,378 589,382 585.5,388 C583.2,393 582.7,398 582.8,404.5 C580.5,399 580.2,393 581.5,387.5 C584,380 591,374 602.7,371.3 Z" fill="#c00000"/>
<path d="M582.4,403.2 C584,413 591,420.6 601,422.9 L607.6,423.7 L609.6,429.0 L614.9,422.0 L606.0,415.6 L606.5,418.3 L600.6,417.9 C592,416.4 586,411 582.4,403.2 Z" fill="#ff0000"/>
<defs><linearGradient id="garr" x1="0" y1="0" x2="0" y2="1"><stop offset="0" stop-color="#aaaaaa"/><stop offset="1" stop-color="#8c8c8c"/></linearGradient></defs>
<path d="M481,586.6 C492.5,583 499.6,573 499.3,560 C498.9,546 490,537.3 478.5,534.8 L471.8,534.2 L467.6,529.6 L462.6,536.6 L471.6,542.2 L472.2,540.4 L478,540.9 C487,542.5 493.6,550 493.8,560 C494,570 488,577.5 477.2,581.2 Z" fill="url(#garr)"/>
</svg>
</body></html>
